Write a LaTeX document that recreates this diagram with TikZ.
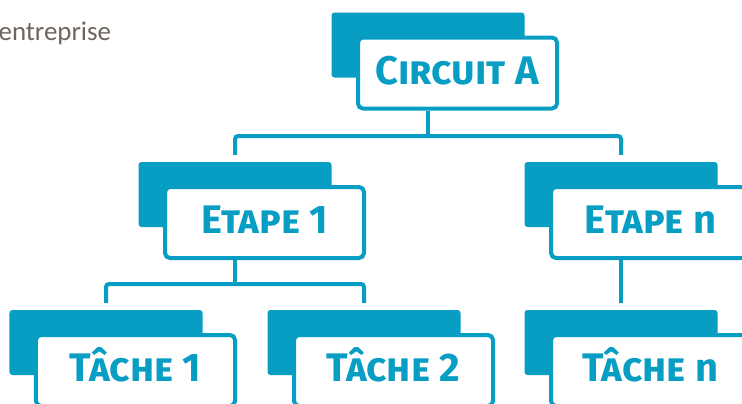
\documentclass[tikz,border=0pt]{standalone}
\usepackage{fontspec}
\setmainfont{Carlito}
\newfontfamily\cardfont{Fira Sans}
\usetikzlibrary{calc}
\definecolor{cardblue}{RGB}{8,158,196}
\definecolor{notegray}{RGB}{110,101,94}
\tikzset{
	backbox/.style={fill=cardblue, rounded corners=3bp, minimum width=193bp, minimum height=65bp, inner sep=0pt},
	frontbox/.style={draw=cardblue, fill=white, line width=4bp, rounded corners=5bp, minimum width=199bp, minimum height=71bp, inner sep=0pt, text=cardblue, text height=24bp, text depth=2bp, font=\cardfont\bfseries\fontsize{40}{40}\selectfont},
	link/.style={draw=cardblue, line width=4bp, rounded corners=3bp}
}
\def\card(#1)(#2,#3)#4{\node[backbox] (#1-b) at (#2-29.5,#3-28) {};
	\node[frontbox] (#1) at (#2,#3) {#4};}

\begin{document}
\begin{tikzpicture}[x=1bp, y=-1bp]
		%%%%% START %%%%%
		
		\fill[white] (0, 0) rectangle (742, 403);
		\useasboundingbox (0, 0) rectangle (742, 403);
		
		\node[font=\fontsize{27}{30}\selectfont, text=notegray, anchor=base west, inner sep=0pt] (note) at (-1.5, 40) {entreprise};
		
		\card(circuit)(457.5, 73){\textsc{Circuit A}}
		
		\card(etape1)(264.5, 222.5){\textsc{Etape 1}}
		\card(etapen)(650.5, 222.5){\textsc{Etape} n}
		
		\card(tache1)(135.5, 370.5){\textsc{Tâche 1}}
		\card(tache2)(393.5, 370.5){\textsc{Tâche 2}}
		\card(tachen)(650.5, 370.5){\textsc{Tâche} n}
		
		\coordinate (bus1) at ($(circuit-b |- circuit.south)+(0, 25.5)$);
		\draw[link] (circuit-b |- circuit.south) -- (bus1);
		\draw[link] ($(etape1-b.north)+(0, -7)$) |- (bus1) -| ($(etapen-b.north)+(0, -7)$);
		
		\coordinate (bus2) at ($(etape1-b |- etape1.south)+(0, 24)$);
		\draw[link] (etape1-b |- etape1.south) -- (bus2);
		\draw[link] ($(tache1-b.north)+(0, -7)$) |- (bus2) -| ($(tache2-b.north)+(0, -7)$);
		
		\draw[link] (etapen-b |- etapen.south) -- ($(tachen-b.north)+(0, -7)$);
		
		%%%%% END %%%%%
\end{tikzpicture}
\end{document}
